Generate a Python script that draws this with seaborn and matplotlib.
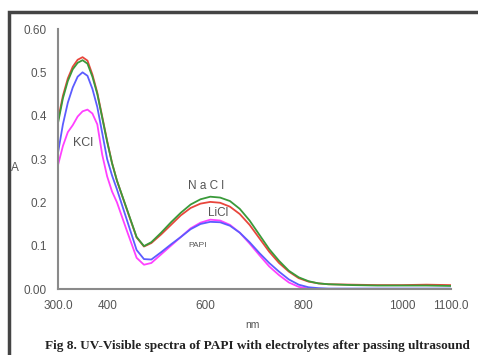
import numpy as np
import pandas as pd
import matplotlib
matplotlib.use("Agg")
import matplotlib.pyplot as plt
import seaborn as sns
from matplotlib.patches import Rectangle

# ==============================
# Data
# ==============================

wavelength = [300, 310, 320, 330, 340, 350, 360, 370, 380, 390, 400, 410, 420, 440,
              460, 475, 490, 510, 530, 550, 570, 590, 610, 630, 650, 670, 690, 710,
              730, 750, 770, 790, 810, 830, 850, 900, 950, 1000, 1050, 1100]

nacl = [0.383, 0.440, 0.480, 0.507, 0.522, 0.528, 0.520, 0.490, 0.450, 0.395, 0.340, 0.290,
        0.250, 0.185, 0.120, 0.099, 0.108, 0.130, 0.154, 0.176, 0.195, 0.207, 0.213, 0.211,
        0.203, 0.185, 0.158, 0.125, 0.092, 0.065, 0.042, 0.027, 0.018, 0.013, 0.011,
        0.009, 0.008, 0.008, 0.008, 0.007]

licl = [0.390, 0.446, 0.486, 0.513, 0.529, 0.535, 0.527, 0.495, 0.453, 0.398, 0.342, 0.291,
        0.250, 0.184, 0.119, 0.098, 0.106, 0.126, 0.148, 0.170, 0.187, 0.197, 0.201, 0.199,
        0.190, 0.173, 0.148, 0.117, 0.086, 0.060, 0.040, 0.025, 0.017, 0.013, 0.011,
        0.010, 0.009, 0.009, 0.010, 0.009]

papi = [0.314, 0.380, 0.430, 0.465, 0.490, 0.500, 0.492, 0.462, 0.420, 0.360, 0.300, 0.262,
        0.230, 0.160, 0.090, 0.069, 0.068, 0.085, 0.103, 0.120, 0.138, 0.150, 0.155, 0.154,
        0.146, 0.130, 0.108, 0.083, 0.060, 0.040, 0.022, 0.010, 0.004, 0.002, 0.001,
        0.001, 0.001, 0.001, 0.001, 0.001]

kcl = [0.286, 0.330, 0.362, 0.378, 0.398, 0.410, 0.414, 0.405, 0.380, 0.310, 0.260, 0.225,
       0.200, 0.135, 0.072, 0.056, 0.060, 0.080, 0.100, 0.120, 0.140, 0.153, 0.160, 0.158,
       0.148, 0.130, 0.105, 0.078, 0.052, 0.032, 0.015, 0.005, 0.001, 0.000, 0.000,
       0.000, 0.000, 0.000, 0.000, 0.000]

series_names = ["KCl", "PAPI", "LiCl", "NaCl"]
series_colors = ["#ff40ff", "#5c5cff", "#e8463c", "#3a9a3a"]

xticks = [300, 400, 600, 800, 1000, 1100]
xtick_labels = ["300.0", "400", "600", "800", "1000", "1100.0"]
yticks = [0.0, 0.1, 0.2, 0.3, 0.4, 0.5, 0.6]
ytick_labels = ["0.00", "0.1", "0.2", "0.3", "0.4", "0.5", "0.60"]

df = pd.DataFrame({
    "nm": wavelength * 4,
    "A": kcl + papi + licl + nacl,
    "sample": sum([[n] * len(wavelength) for n in series_names], []),
})

# ==============================
# Figure
# ==============================

sns.set_style("white")
plt.rcParams["font.family"] = ["Liberation Sans Narrow", "Liberation Sans", "DejaVu Sans"]

fig = plt.figure(figsize=(4.78, 3.55), dpi=100)
ax = fig.add_axes([58 / 478, 1 - 289 / 355, (451 - 58) / 478, (289 - 29) / 355])

sns.lineplot(data=df, x="nm", y="A", hue="sample", hue_order=series_names,
             palette=series_colors, linewidth=1.3, legend=False, ax=ax)

ax.set_xlim(300, 1100)
ax.set_ylim(0, 0.6)
ax.set_xticks(xticks)
ax.set_xticklabels(xtick_labels)
ax.set_yticks(yticks)
ax.set_yticklabels(ytick_labels)
ax.set_xlabel("")
ax.set_ylabel("")
ax.patch.set_alpha(0)

for side in ["top", "right"]:
    ax.spines[side].set_visible(False)
for side in ["left", "bottom"]:
    ax.spines[side].set_color("#8a8a8a")
    ax.spines[side].set_linewidth(1.5)
ax.tick_params(axis="both", direction="out", length=4, width=1.2, color="#8a8a8a",
               labelsize=8.5, labelcolor="#555555", pad=4)

# curve labels
ax.text(601, 0.238, "N a C l", color="#555555", fontsize=8.5, ha="center", va="center")
ax.text(626, 0.175, "LiCl", color="#555555", fontsize=8.5, ha="center", va="center")
ax.text(584, 0.100, "PAPI", color="#555555", fontsize=6, ha="center", va="center")
ax.text(351, 0.337, "KCl", color="#555555", fontsize=9, ha="center", va="center")

fig.text(15 / 478, 1 - 168 / 355, "A", color="#555555", fontsize=8.5, ha="center", va="center")
fig.text(252 / 478, 1 - 325 / 355, "nm", color="#555555", fontsize=7.5, ha="center", va="center")

fig.text(45 / 478, 1 - 346 / 355,
         "Fig 8. UV-Visible spectra of PAPI with electrolytes after passing ultrasound",
         family="Liberation Serif", fontweight="bold", fontsize=9.5, color="#222222",
         ha="left", va="center")

# outer frame of the scanned figure
fig.patches.append(Rectangle((9 / 478, -0.1), 1.2, 1.1 - 12 / 355, transform=fig.transFigure,
                             fill=False, edgecolor="#444444", linewidth=2.5))

fig.savefig("out.png", dpi=100)
